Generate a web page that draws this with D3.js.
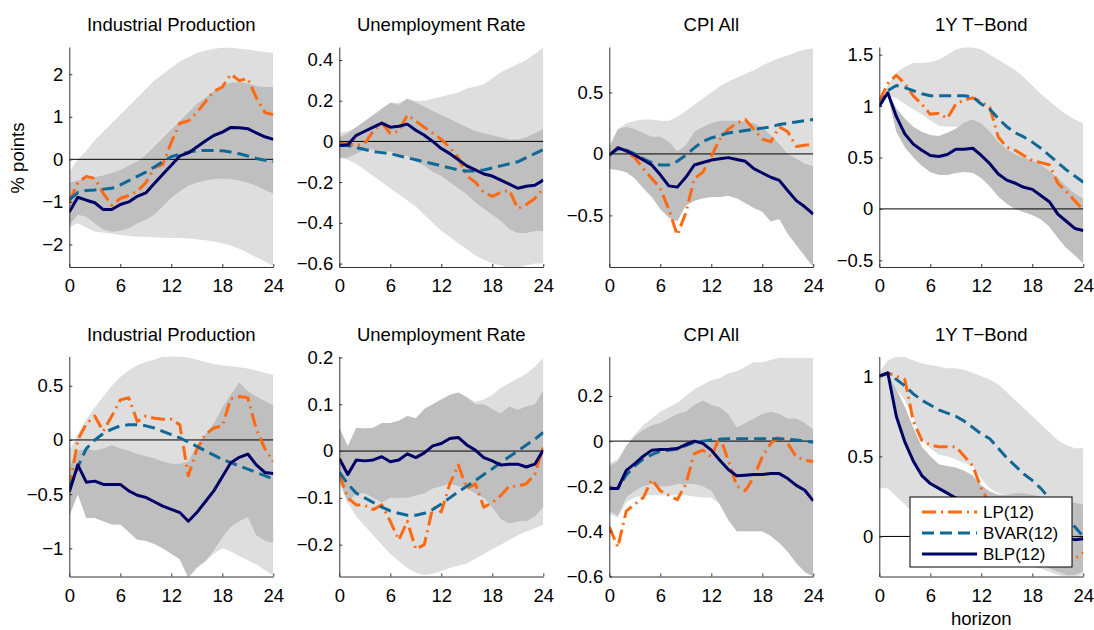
<!DOCTYPE html>
<html>
<head>
<meta charset="utf-8">
<script src="https://cdn.jsdelivr.net/npm/d3@7"></script>
<style>
  body { margin: 0; background: #fff; }
  svg text { font-family: "Liberation Sans", Arial, Helvetica, sans-serif; fill: #000; }
</style>
</head>
<body>
<div id="chart"></div>
<script>

// x axis: horizon in months
var horizon = [0, 1, 2, 3, 4, 5, 6, 7, 8, 9, 10, 11, 12, 13, 14, 15, 16, 17, 18, 19, 20, 21, 22, 23, 24];
var xTicks = [0, 6, 12, 18, 24];
var titles = ["Industrial Production", "Unemployment Rate", "CPI All", "1Y T\u2212Bond",
              "Industrial Production", "Unemployment Rate", "CPI All", "1Y T\u2212Bond"];
var seriesNames = ["LP(12)", "BVAR(12)", "BLP(12)"];

// y ranges and tick labels of each panel
var yDomains = [[-2.53, 2.64], [-0.617, 0.464], [-0.92, 0.87], [-0.565, 1.575],
                [-1.26, 0.77], [-0.268, 0.202], [-0.6, 0.375], [-0.25, 1.123]];
var yTicks = [[-2, -1, 0, 1, 2], [-0.6, -0.4, -0.2, 0, 0.2, 0.4], [-0.5, 0, 0.5], [-0.5, 0, 0.5, 1, 1.5],
              [-1, -0.5, 0, 0.5], [-0.2, -0.1, 0, 0.1, 0.2], [-0.6, -0.4, -0.2, 0, 0.2], [0, 0.5, 1]];

// ---- panel 1 : Industrial Production (top)
var p1LightHi = [-0.3, 0.0, 0.2, 0.45, 0.65, 0.85, 1.05, 1.25, 1.45, 1.65, 1.85, 2.0, 2.15, 2.3, 2.4, 2.5, 2.56, 2.6, 2.62, 2.62, 2.6, 2.58, 2.55, 2.52, 2.5];
var p1LightLo = [-1.6, -1.5, -1.6, -1.7, -1.72, -1.75, -1.78, -1.8, -1.82, -1.82, -1.83, -1.84, -1.85, -1.85, -1.86, -1.88, -1.9, -1.93, -1.97, -2.03, -2.1, -2.2, -2.3, -2.4, -2.5];
var p1DarkHi = [-0.55, -0.5, -0.45, -0.42, -0.38, -0.32, -0.25, -0.15, -0.05, 0.1, 0.3, 0.5, 0.7, 0.9, 1.1, 1.3, 1.45, 1.6, 1.72, 1.8, 1.82, 1.78, 1.72, 1.7, 1.7];
var p1DarkLo = [-1.55, -1.3, -1.35, -1.5, -1.65, -1.7, -1.68, -1.62, -1.5, -1.42, -1.3, -1.1, -0.9, -0.75, -0.62, -0.55, -0.5, -0.47, -0.45, -0.46, -0.5, -0.55, -0.62, -0.72, -0.8];
var p1LP = [-1.0, -0.55, -0.4, -0.45, -0.8, -1.08, -0.92, -0.85, -0.75, -0.55, -0.2, -0.12, 0.4, 0.85, 0.9, 1.1, 1.35, 1.6, 1.7, 2.0, 1.85, 1.9, 1.45, 1.1, 1.05];
var p1BVAR = [-0.95, -0.78, -0.73, -0.72, -0.7, -0.68, -0.6, -0.5, -0.4, -0.3, -0.18, -0.05, 0.06, 0.12, 0.17, 0.2, 0.21, 0.21, 0.2, 0.17, 0.13, 0.08, 0.02, -0.02, -0.05];
var p1BLP = [-1.24, -0.89, -0.96, -1.02, -1.18, -1.18, -1.06, -1.0, -0.87, -0.79, -0.57, -0.35, -0.14, 0.08, 0.15, 0.29, 0.43, 0.56, 0.64, 0.75, 0.74, 0.72, 0.62, 0.53, 0.47];

// ---- panel 2 : Unemployment Rate (top)
var p2LightHi = [0.04, 0.05, 0.07, 0.1, 0.13, 0.16, 0.19, 0.19, 0.21, 0.2, 0.2, 0.21, 0.22, 0.23, 0.24, 0.26, 0.27, 0.28, 0.31, 0.34, 0.36, 0.38, 0.4, 0.43, 0.46];
var p2LightLo = [-0.08, -0.09, -0.11, -0.14, -0.17, -0.2, -0.23, -0.26, -0.29, -0.32, -0.36, -0.4, -0.44, -0.47, -0.5, -0.53, -0.56, -0.58, -0.6, -0.61, -0.62, -0.62, -0.61, -0.6, -0.6];
var p2DarkHi = [0.02, 0.04, 0.07, 0.1, 0.13, 0.16, 0.19, 0.18, 0.21, 0.19, 0.17, 0.15, 0.13, 0.11, 0.09, 0.07, 0.05, 0.04, 0.03, 0.02, 0.01, 0.01, 0.02, 0.04, 0.06];
var p2DarkLo = [-0.08, -0.08, -0.06, -0.04, -0.04, -0.05, -0.05, -0.06, -0.07, -0.1, -0.12, -0.15, -0.17, -0.2, -0.23, -0.26, -0.3, -0.33, -0.36, -0.39, -0.43, -0.45, -0.45, -0.44, -0.44];
var p2LP = [-0.01, -0.01, -0.02, -0.01, 0.05, 0.09, 0.04, 0.05, 0.13, 0.1, 0.07, 0.04, 0.01, -0.03, -0.08, -0.17, -0.2, -0.25, -0.27, -0.25, -0.24, -0.33, -0.31, -0.28, -0.23];
var p2BVAR = [-0.02, -0.02, -0.03, -0.04, -0.05, -0.055, -0.06, -0.07, -0.08, -0.09, -0.1, -0.11, -0.12, -0.13, -0.14, -0.145, -0.145, -0.14, -0.13, -0.12, -0.11, -0.1, -0.08, -0.06, -0.04];
var p2BLP = [-0.02, -0.016, 0.03, 0.05, 0.07, 0.09, 0.07, 0.075, 0.085, 0.055, 0.03, 0.0, -0.035, -0.06, -0.09, -0.12, -0.14, -0.16, -0.17, -0.19, -0.21, -0.23, -0.22, -0.215, -0.19];

// ---- panel 3 : CPI All (top)
var p3LightHi = [0.07, 0.2, 0.25, 0.27, 0.28, 0.28, 0.27, 0.27, 0.3, 0.35, 0.4, 0.45, 0.5, 0.55, 0.59, 0.62, 0.65, 0.68, 0.72, 0.75, 0.78, 0.8, 0.83, 0.85, 0.86];
var p3LightLo = [-0.12, -0.13, -0.14, -0.18, -0.25, -0.32, -0.38, -0.4, -0.4, -0.42, -0.38, -0.36, -0.35, -0.35, -0.34, -0.36, -0.4, -0.44, -0.47, -0.55, -0.53, -0.65, -0.74, -0.83, -0.92];
var p3DarkHi = [0.05, 0.2, 0.22, 0.2, 0.17, 0.14, 0.14, 0.1, 0.02, 0.07, 0.18, 0.22, 0.25, 0.27, 0.27, 0.27, 0.26, 0.25, 0.22, 0.15, 0.08, 0.0, -0.04, -0.08, -0.1];
var p3DarkLo = [-0.12, -0.13, -0.15, -0.2, -0.28, -0.35, -0.45, -0.52, -0.55, -0.42, -0.38, -0.36, -0.35, -0.35, -0.34, -0.36, -0.4, -0.44, -0.47, -0.55, -0.53, -0.65, -0.74, -0.83, -0.92];
var p3LP = [-0.01, 0.05, 0.02, -0.03, -0.12, -0.2, -0.28, -0.45, -0.66, -0.48, -0.2, -0.15, -0.02, 0.12, 0.2, 0.25, 0.28, 0.2, 0.12, 0.1, 0.22, 0.18, 0.06, 0.07, 0.08];
var p3BVAR = [-0.01, 0.04, 0.03, 0.0, -0.04, -0.07, -0.09, -0.09, -0.06, -0.01, 0.05, 0.1, 0.13, 0.15, 0.17, 0.18, 0.19, 0.2, 0.21, 0.22, 0.24, 0.25, 0.26, 0.27, 0.28];
var p3BLP = [-0.01, 0.05, 0.025, -0.01, -0.05, -0.09, -0.17, -0.26, -0.27, -0.19, -0.09, -0.07, -0.05, -0.04, -0.03, -0.045, -0.06, -0.12, -0.155, -0.19, -0.215, -0.3, -0.38, -0.43, -0.49];

// ---- panel 4 : 1Y T-Bond (top)
var p4LightHi = [1.05, 1.2, 1.33, 1.38, 1.42, 1.42, 1.43, 1.45, 1.5, 1.55, 1.57, 1.57, 1.55, 1.5, 1.45, 1.4, 1.35, 1.28, 1.2, 1.12, 1.05, 0.98, 0.92, 0.87, 0.83];
var p4LightLo = [1.0, 1.1, 1.08, 1.02, 0.97, 0.92, 0.86, 0.81, 0.8, 0.8, 0.8, 0.82, 0.3, 0.22, 0.12, 0.05, 0.0, -0.03, -0.06, -0.1, -0.17, -0.28, -0.38, -0.45, -0.53];
var p4DarkHi = [1.0, 1.12, 0.98, 0.88, 0.8, 0.75, 0.72, 0.71, 0.74, 0.78, 0.84, 0.87, 0.83, 0.75, 0.65, 0.58, 0.53, 0.5, 0.47, 0.43, 0.37, 0.3, 0.22, 0.15, 0.1];
var p4DarkLo = [1.0, 1.1, 0.75, 0.6, 0.5, 0.42, 0.36, 0.33, 0.33, 0.35, 0.36, 0.35, 0.3, 0.22, 0.12, 0.05, 0.0, -0.03, -0.06, -0.1, -0.17, -0.28, -0.38, -0.45, -0.53];
var p4LP = [1.05, 1.22, 1.3, 1.22, 1.1, 1.02, 0.92, 0.93, 0.88, 1.02, 1.06, 1.08, 1.04, 0.99, 0.7, 0.6, 0.57, 0.52, 0.47, 0.45, 0.43, 0.25, 0.17, 0.08, -0.01];
var p4BVAR = [1.0, 1.15, 1.2, 1.18, 1.15, 1.12, 1.1, 1.1, 1.1, 1.1, 1.1, 1.09, 1.02, 0.97, 0.88, 0.8, 0.74, 0.7, 0.65, 0.59, 0.52, 0.45, 0.38, 0.32, 0.26];
var p4BLP = [1.0, 1.13, 0.9, 0.73, 0.63, 0.57, 0.52, 0.51, 0.53, 0.58, 0.58, 0.59, 0.52, 0.44, 0.34, 0.28, 0.25, 0.21, 0.19, 0.13, 0.07, -0.05, -0.12, -0.19, -0.21];

// ---- panel 5 : Industrial Production (bottom)
var p5LightHi = [-0.1, 0.05, 0.19, 0.3, 0.4, 0.5, 0.58, 0.64, 0.69, 0.72, 0.74, 0.77, 0.77, 0.77, 0.76, 0.74, 0.72, 0.7, 0.69, 0.68, 0.67, 0.66, 0.64, 0.62, 0.6];
var p5LightLo = [-0.7, -0.5, -0.72, -0.72, -0.75, -0.78, -0.78, -0.85, -0.92, -0.93, -0.96, -1.0, -1.05, -1.1, -1.27, -1.18, -1.12, -1.05, -1.0, -1.03, -1.07, -1.11, -1.15, -1.2, -1.25];
var p5DarkHi = [-0.25, -0.1, -0.08, -0.1, -0.08, -0.05, -0.08, -0.1, -0.13, -0.15, -0.17, -0.2, -0.22, -0.22, -0.2, -0.05, 0.05, 0.15, 0.3, 0.42, 0.53, 0.45, 0.4, 0.36, 0.32];
var p5DarkLo = [-0.7, -0.5, -0.72, -0.72, -0.75, -0.78, -0.78, -0.85, -0.92, -0.93, -0.96, -1.0, -1.05, -1.1, -1.27, -1.18, -1.12, -1.02, -0.9, -0.8, -0.75, -0.71, -0.88, -0.93, -0.95];
var p5LP = [-0.45, 0.0, 0.15, 0.22, 0.08, 0.22, 0.37, 0.39, 0.17, 0.22, 0.2, 0.19, 0.19, 0.14, -0.33, -0.09, 0.05, 0.11, 0.13, 0.38, 0.4, 0.39, 0.1, -0.08, -0.2];
var p5BVAR = [-0.45, -0.25, -0.08, 0.0, 0.06, 0.1, 0.13, 0.14, 0.14, 0.13, 0.11, 0.08, 0.05, 0.02, -0.02, -0.06, -0.1, -0.14, -0.18, -0.21, -0.24, -0.27, -0.3, -0.33, -0.36];
var p5BLP = [-0.48, -0.23, -0.39, -0.38, -0.41, -0.41, -0.41, -0.47, -0.51, -0.53, -0.57, -0.61, -0.64, -0.67, -0.75, -0.67, -0.57, -0.47, -0.34, -0.21, -0.16, -0.13, -0.23, -0.3, -0.31];

// ---- panel 6 : Unemployment Rate (bottom)
var p6LightHi = [0.05, 0.01, 0.05, 0.048, 0.05, 0.06, 0.06, 0.065, 0.075, 0.07, 0.09, 0.1, 0.11, 0.12, 0.125, 0.115, 0.105, 0.11, 0.12, 0.135, 0.145, 0.155, 0.165, 0.18, 0.2];
var p6LightLo = [-0.07, -0.11, -0.14, -0.16, -0.18, -0.2, -0.22, -0.235, -0.25, -0.26, -0.265, -0.262, -0.256, -0.25, -0.245, -0.24, -0.23, -0.22, -0.21, -0.2, -0.19, -0.18, -0.172, -0.165, -0.158];
var p6DarkHi = [0.05, 0.01, 0.05, 0.048, 0.05, 0.06, 0.06, 0.065, 0.075, 0.07, 0.09, 0.1, 0.11, 0.12, 0.125, 0.115, 0.1, 0.1, 0.09, 0.08, 0.095, 0.088, 0.095, 0.1, 0.13];
var p6DarkLo = [-0.06, -0.11, -0.09, -0.09, -0.1, -0.11, -0.1, -0.1, -0.1, -0.095, -0.09, -0.08, -0.075, -0.07, -0.075, -0.08, -0.09, -0.1, -0.12, -0.145, -0.155, -0.15, -0.15, -0.14, -0.12];
var p6LP = [-0.05, -0.1, -0.115, -0.116, -0.125, -0.115, -0.15, -0.19, -0.15, -0.21, -0.2, -0.12, -0.13, -0.07, -0.03, -0.08, -0.07, -0.12, -0.11, -0.095, -0.075, -0.075, -0.07, -0.05, 0.01];
var p6BVAR = [-0.045, -0.07, -0.09, -0.1, -0.11, -0.12, -0.128, -0.133, -0.137, -0.137, -0.133, -0.125, -0.113, -0.1, -0.087, -0.075, -0.063, -0.05, -0.038, -0.025, -0.012, 0.0, 0.013, 0.025, 0.04];
var p6BLP = [-0.016, -0.05, -0.019, -0.021, -0.019, -0.012, -0.023, -0.019, -0.006, -0.014, -0.004, 0.011, 0.016, 0.027, 0.029, 0.013, 0.002, -0.014, -0.021, -0.03, -0.028, -0.028, -0.034, -0.028, 0.002];

// ---- panel 7 : CPI All (bottom)
var p7LightHi = [-0.1, -0.08, -0.02, 0.03, 0.07, 0.1, 0.13, 0.15, 0.17, 0.2, 0.23, 0.25, 0.27, 0.28, 0.3, 0.31, 0.33, 0.35, 0.35, 0.36, 0.37, 0.37, 0.37, 0.37, 0.37];
var p7LightLo = [-0.32, -0.34, -0.27, -0.25, -0.24, -0.24, -0.24, -0.24, -0.24, -0.24, -0.245, -0.25, -0.25, -0.28, -0.35, -0.4, -0.4, -0.4, -0.4, -0.42, -0.45, -0.49, -0.54, -0.58, -0.6];
var p7DarkHi = [-0.11, -0.09, -0.02, 0.02, 0.05, 0.07, 0.08, 0.1, 0.12, 0.13, 0.16, 0.18, 0.16, 0.15, 0.12, 0.06, 0.08, 0.1, 0.12, 0.13, 0.12, 0.1, 0.1, 0.08, 0.05];
var p7DarkLo = [-0.31, -0.33, -0.25, -0.22, -0.2, -0.19, -0.2, -0.2, -0.19, -0.19, -0.19, -0.2, -0.22, -0.28, -0.35, -0.4, -0.4, -0.4, -0.4, -0.42, -0.45, -0.49, -0.54, -0.58, -0.6];
var p7LP = [-0.38, -0.47, -0.31, -0.28, -0.25, -0.17, -0.22, -0.24, -0.26, -0.19, -0.055, -0.04, -0.07, 0.02, -0.085, -0.2, -0.22, -0.16, -0.07, -0.01, 0.02, -0.01, -0.07, -0.085, -0.09];
var p7BVAR = [-0.21, -0.21, -0.15, -0.11, -0.08, -0.06, -0.045, -0.04, -0.035, -0.02, -0.005, 0.0, 0.005, 0.008, 0.01, 0.01, 0.01, 0.01, 0.01, 0.01, 0.01, 0.008, 0.005, 0.0, -0.005];
var p7BLP = [-0.21, -0.21, -0.13, -0.1, -0.067, -0.04, -0.037, -0.036, -0.033, -0.015, 0.0, -0.01, -0.04, -0.085, -0.126, -0.154, -0.151, -0.148, -0.148, -0.144, -0.144, -0.166, -0.196, -0.218, -0.265];

// ---- panel 8 : 1Y T-Bond (bottom); its light band has a second, lower piece
var p8LightHi = [1.02, 1.1, 1.12, 1.12, 1.1, 1.08, 1.07, 1.06, 1.05, 1.05, 1.04, 1.02, 1.0, 0.98, 0.95, 0.9, 0.85, 0.8, 0.75, 0.7, 0.65, 0.6, 0.57, 0.55, 0.55];
var p8LightLo = [1.0, 1.02, 0.92, 0.85, 0.74, 0.61, 0.55, 0.51, 0.5, 0.48, 0.46, 0.44, 0.36, 0.3, 0.27, 0.26, 0.26, 0.26, 0.25, 0.24, 0.23, 0.22, 0.21, 0.2, 0.19];
var p8LightLo2 = [0.3, 0.3, 0.25, 0.2, 0.15, 0.1, 0.05, 0.0, -0.05, -0.08, -0.1, -0.12, -0.13, -0.14, -0.15, -0.16, -0.17, -0.18, -0.19, -0.2, -0.22, -0.24, -0.25, -0.25, -0.24];
var p8DarkHi = [1.0, 1.02, 0.92, 0.81, 0.68, 0.56, 0.5, 0.45, 0.44, 0.43, 0.41, 0.38, 0.32, 0.28, 0.26, 0.26, 0.27, 0.27, 0.26, 0.25, 0.24, 0.23, 0.22, 0.21, 0.2];
var p8DarkLo = [0.99, 1.0, 0.74, 0.58, 0.46, 0.37, 0.32, 0.29, 0.26, 0.22, 0.18, 0.13, 0.08, 0.03, -0.02, -0.06, -0.09, -0.12, -0.15, -0.18, -0.2, -0.22, -0.24, -0.24, -0.22];
var p8LP = [1.0, 1.02, 1.0, 0.98, 0.72, 0.6, 0.57, 0.56, 0.56, 0.56, 0.5, 0.44, 0.3, 0.2, 0.12, 0.05, 0.0, -0.04, -0.07, -0.1, -0.12, -0.15, -0.17, -0.14, -0.1];
var p8BVAR = [1.0, 1.02, 0.98, 0.94, 0.89, 0.85, 0.82, 0.79, 0.77, 0.75, 0.72, 0.68, 0.64, 0.61, 0.55, 0.49, 0.44, 0.39, 0.35, 0.3, 0.24, 0.18, 0.12, 0.06, 0.0];
var p8BLP = [1.0, 1.02, 0.75, 0.59, 0.47, 0.38, 0.33, 0.3, 0.27, 0.24, 0.22, 0.19, 0.17, 0.16, 0.13, 0.12, 0.09, 0.07, 0.06, 0.03, 0.02, 0.0, -0.01, -0.02, -0.015];

var panels = [
  {light: [[p1LightLo, p1LightHi]], dark: [p1DarkLo, p1DarkHi], lines: [p1LP, p1BVAR, p1BLP]},
  {light: [[p2LightLo, p2LightHi]], dark: [p2DarkLo, p2DarkHi], lines: [p2LP, p2BVAR, p2BLP]},
  {light: [[p3LightLo, p3LightHi]], dark: [p3DarkLo, p3DarkHi], lines: [p3LP, p3BVAR, p3BLP]},
  {light: [[p4LightLo, p4LightHi]], dark: [p4DarkLo, p4DarkHi], lines: [p4LP, p4BVAR, p4BLP]},
  {light: [[p5LightLo, p5LightHi]], dark: [p5DarkLo, p5DarkHi], lines: [p5LP, p5BVAR, p5BLP]},
  {light: [[p6LightLo, p6LightHi]], dark: [p6DarkLo, p6DarkHi], lines: [p6LP, p6BVAR, p6BLP]},
  {light: [[p7LightLo, p7LightHi]], dark: [p7DarkLo, p7DarkHi], lines: [p7LP, p7BVAR, p7BLP]},
  {light: [[p8LightLo, p8LightHi], [p8LightLo2, p8DarkLo]], dark: [p8DarkLo, p8DarkHi], lines: [p8LP, p8BVAR, p8BLP]}
];

var width = 1094,
    height = 630;

var plotW = 204,
    plotH = 220;
var colX = [69.3, 339.3, 609.3, 879.3],
    rowY = [47, 356.5];

var lineColor = ["#ff6a10", "#0f6896", "#000066"],
    lineDash = ["14,5,2,5", "12,6", null];

var svg = d3.select("#chart").append("svg")
    .attr("width", width)
    .attr("height", height);

var x = d3.scaleLinear()
    .domain([0, 24])
    .range([0, plotW]);

var fmt = d3.format("");

panels.forEach(function(p, i) {
  var g = svg.append("g")
      .attr("transform", "translate(" + colX[i % 4] + "," + rowY[Math.floor(i / 4)] + ")");

  var y = d3.scaleLinear()
      .domain(yDomains[i])
      .range([plotH, 0]);

  g.append("clipPath").attr("id", "clip" + i)
    .append("rect")
      .attr("width", plotW)
      .attr("height", plotH);

  var plot = g.append("g").attr("clip-path", "url(#clip" + i + ")");

  var band = function(lo, hi) {
    return d3.area()
        .x(function(d) { return x(d); })
        .y0(function(d, j) { return y(lo[j]); })
        .y1(function(d, j) { return y(hi[j]); });
  };

  p.light.forEach(function(b) {
    plot.append("path").datum(horizon)
        .attr("fill", "#dedede")
        .attr("d", band(b[0], b[1]));
  });

  plot.append("path").datum(horizon)
      .attr("fill", "#bfbfbf")
      .attr("d", band(p.dark[0], p.dark[1]));

  plot.append("line")
      .attr("x1", 0).attr("x2", plotW)
      .attr("y1", y(0)).attr("y2", y(0))
      .attr("stroke", "#000")
      .attr("stroke-width", 1);

  p.lines.forEach(function(s, k) {
    plot.append("path").datum(horizon)
        .attr("fill", "none")
        .attr("stroke", lineColor[k])
        .attr("stroke-width", 3)
        .attr("stroke-dasharray", lineDash[k])
        .attr("stroke-linejoin", "round")
        .attr("d", d3.line()
            .x(function(d) { return x(d); })
            .y(function(d, j) { return y(s[j]); }));
  });

  var yAxis = g.append("g")
      .attr("class", "axis")
      .call(d3.axisLeft(y).tickValues(yTicks[i]).tickFormat(fmt)
          .tickSizeInner(-3).tickSizeOuter(0).tickPadding(6));

  var xAxis = g.append("g")
      .attr("class", "axis")
      .attr("transform", "translate(0," + plotH + ")")
      .call(d3.axisBottom(x).tickValues(xTicks)
          .tickSizeInner(-3).tickSizeOuter(0).tickPadding(12));

  [yAxis, xAxis].forEach(function(a) {
    a.attr("font-size", 18.5).attr("font-family", null);
    a.select(".domain").attr("stroke", "#333");
    a.selectAll(".tick line").attr("stroke", "#333");
  });

  g.append("text")
      .attr("x", plotW / 2)
      .attr("y", -16)
      .attr("text-anchor", "middle")
      .attr("font-size", 18.5)
      .text(titles[i]);
});

svg.append("text")
    .attr("transform", "translate(24,158) rotate(-90)")
    .attr("text-anchor", "middle")
    .attr("font-size", 18.5)
    .text("% points");

svg.append("text")
    .attr("x", colX[3] + plotW / 2)
    .attr("y", 625)
    .attr("text-anchor", "middle")
    .attr("font-size", 18.5)
    .text("horizon");

// legend, inside the last panel
var legend = svg.append("g").attr("transform", "translate(910,497)");

legend.append("rect")
    .attr("width", 162)
    .attr("height", 70)
    .attr("fill", "#fff")
    .attr("stroke", "#000")
    .attr("stroke-width", 1);

var item = legend.selectAll("g.item")
    .data(seriesNames)
    .enter().append("g")
      .attr("class", "item")
      .attr("transform", function(d, i) { return "translate(0," + (15 + i * 21) + ")"; });

item.append("line")
    .attr("x1", 12).attr("x2", 67)
    .attr("stroke", function(d, i) { return lineColor[i]; })
    .attr("stroke-width", 3)
    .attr("stroke-dasharray", function(d, i) { return lineDash[i]; });

item.append("text")
    .attr("x", 73)
    .attr("dy", "0.35em")
    .attr("font-size", 17)
    .text(function(d) { return d; });

</script>
</body>
</html>
